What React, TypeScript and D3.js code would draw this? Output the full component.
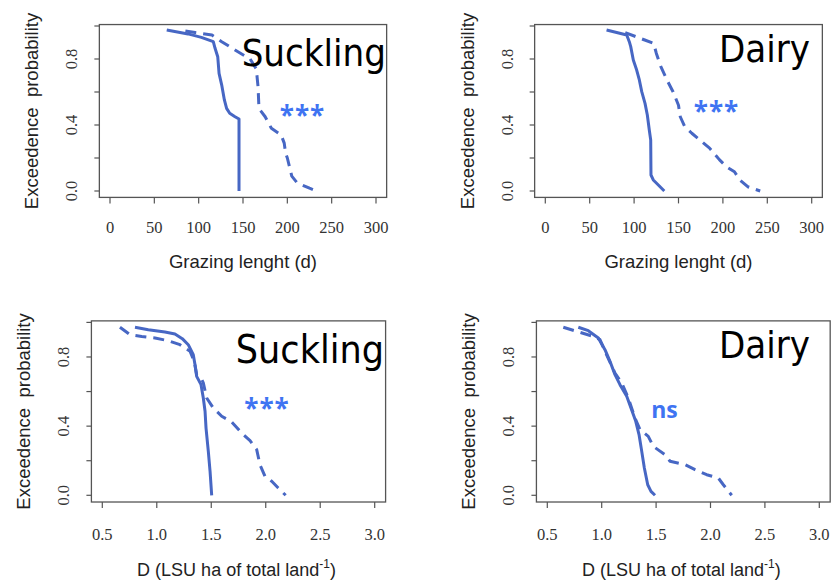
import React from "react";
import * as d3 from "d3";

type Pt = [number, number];

// Tick values shown on the axes
const grazingTicks = [0, 50, 100, 150, 200, 250, 300];
const densityTicks = [0.5, 1.0, 1.5, 2.0, 2.5, 3.0];
const probTicks = [0, 0.2, 0.4, 0.6, 0.8, 1.0];
const probLabelTicks = [0, 0.4, 0.8];

// Exceedence curves: [value, exceedence probability]
// Grazing length (days), suckling farms
const grazingSucklingSolid: Pt[] = [
  [64, 0.976], [88, 0.952], [103, 0.931], [116.5, 0.905], [118.5, 0.865],
  [121.5, 0.814], [123, 0.713], [126, 0.642], [129, 0.552], [131.5, 0.501],
  [135, 0.471], [141, 0.45], [145.5, 0.436], [145.5, 0.0],
];
const grazingSucklingDashed: Pt[] = [
  [85, 0.97], [96, 0.96], [115, 0.945], [126, 0.905], [141, 0.855],
  [158, 0.8], [165, 0.74], [167, 0.63], [168, 0.5], [175, 0.45],
  [182, 0.38], [193, 0.34], [196.5, 0.29], [198, 0.23], [200, 0.2],
  [205, 0.09], [211, 0.05], [225, 0.017], [233, 0.0],
];
// Grazing length (days), dairy farms
const grazingDairySolid: Pt[] = [
  [69, 0.976], [91.7, 0.945], [94.6, 0.905], [96.2, 0.875], [99.1, 0.794],
  [102.9, 0.733], [105.9, 0.673], [108.6, 0.602], [112.3, 0.531], [114.9, 0.461],
  [117.1, 0.37], [118.7, 0.309], [119, 0.097], [121.6, 0.067], [128.4, 0.03],
  [134, 0.0],
];
const grazingDairyDashed: Pt[] = [
  [90, 0.96], [112, 0.915], [122, 0.895], [125, 0.835], [130, 0.755],
  [137, 0.673], [144, 0.6], [150, 0.52], [152, 0.45], [157, 0.39],
  [165, 0.35], [185, 0.26], [196, 0.19], [204, 0.147], [213, 0.117],
  [219, 0.067], [228, 0.026], [242, 0.0],
];
// Stocking density (LSU/ha), suckling farms
const densitySucklingSolid: Pt[] = [
  [0.8, 0.972], [0.922, 0.958], [1.075, 0.944], [1.167, 0.933], [1.234, 0.906],
  [1.289, 0.871], [1.335, 0.813], [1.351, 0.755], [1.366, 0.688], [1.406, 0.64],
  [1.427, 0.563], [1.443, 0.486], [1.452, 0.389], [1.473, 0.254], [1.489, 0.139],
  [1.504, 0.0],
];
const densitySucklingDashed: Pt[] = [
  [0.662, 0.972], [0.754, 0.929], [0.862, 0.919], [0.984, 0.91], [1.106, 0.894],
  [1.213, 0.871], [1.305, 0.833], [1.344, 0.775], [1.366, 0.698], [1.406, 0.678],
  [1.427, 0.65], [1.458, 0.563], [1.519, 0.505], [1.596, 0.457], [1.688, 0.424],
  [1.779, 0.36], [1.856, 0.316], [1.917, 0.264], [1.947, 0.177], [1.993, 0.11],
  [2.055, 0.081], [2.115, 0.042], [2.183, 0.0],
];
// Stocking density (LSU/ha), dairy farms
const densityDairySolid: Pt[] = [
  [0.785, 0.972], [0.877, 0.952], [0.969, 0.91], [1.03, 0.842], [1.076, 0.775],
  [1.122, 0.698], [1.168, 0.64], [1.23, 0.573], [1.269, 0.505], [1.313, 0.428],
  [1.343, 0.351], [1.368, 0.254], [1.392, 0.158], [1.423, 0.061], [1.453, 0.023],
  [1.49, 0.0],
];
const densityDairyDashed: Pt[] = [
  [0.647, 0.972], [0.77, 0.948], [0.923, 0.919], [0.984, 0.9], [1.03, 0.833],
  [1.122, 0.707], [1.184, 0.65], [1.244, 0.563], [1.306, 0.447], [1.352, 0.38],
  [1.428, 0.341], [1.474, 0.283], [1.582, 0.235], [1.628, 0.197], [1.766, 0.177],
  [1.858, 0.148], [1.965, 0.119], [2.072, 0.1], [2.118, 0.061], [2.195, 0.0],
];

const LINE = "#4767c4";
const SIG = "#3f74f2";
const AXIS = "#555";
const TEXT = "#222";
const SANS = "'Liberation Sans', Arial, sans-serif";
const SERIF = "'Liberation Serif', 'Times New Roman', serif";
const LABEL_FONT = "'DejaVu Sans', Verdana, sans-serif";

interface Panel {
  ticks: number[];
  fmt: (v: number) => string;
  tickPx: [number, number];
  probPx: [number, number];
  title: "grazing" | "density";
  solid: Pt[];
  dashed: Pt[];
  group: string;
  groupX: number;
  groupY: number;
  groupSize: number;
  sig: string;
  sigX: number;
  sigY: number;
  sigSize: number;
  tickLabelY: number;
  titleY: number;
}

const fmtInt = d3.format("d");
const fmt1 = d3.format(".1f");

const panels: Panel[] = [
  {
    ticks: grazingTicks, fmt: fmtInt, tickPx: [110, 376], probPx: [191, 26],
    title: "grazing", solid: grazingSucklingSolid, dashed: grazingSucklingDashed,
    group: "Suckling", groupX: 386, groupY: 66, groupSize: 38,
    sig: "***", sigX: 302.5, sigY: 125, sigSize: 26,
    tickLabelY: 233, titleY: 268,
  },
  {
    ticks: grazingTicks, fmt: fmtInt, tickPx: [545.3, 811.7], probPx: [191, 26],
    title: "grazing", solid: grazingDairySolid, dashed: grazingDairyDashed,
    group: "Dairy", groupX: 810, groupY: 62, groupSize: 38,
    sig: "***", sigX: 716.5, sigY: 121, sigSize: 26,
    tickLabelY: 233, titleY: 268,
  },
  {
    ticks: densityTicks, fmt: fmt1, tickPx: [102.3, 374.7], probPx: [495.3, 322.4],
    title: "density", solid: densitySucklingSolid, dashed: densitySucklingDashed,
    group: "Suckling", groupX: 384, groupY: 363, groupSize: 39,
    sig: "***", sigX: 267, sigY: 418, sigSize: 26,
    tickLabelY: 540, titleY: 576,
  },
  {
    ticks: densityTicks, fmt: fmt1, tickPx: [547.3, 819.3], probPx: [495.3, 322.4],
    title: "density", solid: densityDairySolid, dashed: densityDairyDashed,
    group: "Dairy", groupX: 810, groupY: 358, groupSize: 38,
    sig: "ns", sigX: 664.5, sigY: 418, sigSize: 23,
    tickLabelY: 540, titleY: 576,
  },
];

function PanelView({ p }: { p: Panel }) {
  const t0 = p.ticks[0];
  const t1 = p.ticks[p.ticks.length - 1];
  const x = d3.scaleLinear().domain([t0, t1]).range(p.tickPx);
  const y = d3.scaleLinear().domain([0, 1]).range(p.probPx);
  const pad = 0.04 * (t1 - t0);
  const left = x(t0 - pad);
  const right = x(t1 + pad);
  const top = y(1.0088);
  const bottom = y(-0.0388);
  const line = d3
    .line<Pt>()
    .x((d) => x(d[0]))
    .y((d) => y(d[1]));
  const cx = (left + right) / 2;
  const cy = (top + bottom) / 2;

  return (
    <g>
      <rect
        x={left}
        y={top}
        width={right - left}
        height={bottom - top}
        fill="none"
        stroke={AXIS}
        strokeWidth={1.3}
      />
      {/* x axis ticks */}
      {p.ticks.map((t) => (
        <g key={"x" + t}>
          <line x1={x(t)} x2={x(t)} y1={bottom} y2={bottom + 6} stroke={AXIS} strokeWidth={1.2} />
          <text
            x={x(t)}
            y={p.tickLabelY}
            textAnchor="middle"
            fontFamily={SERIF}
            fontSize={16.5}
            fill="#333"
          >
            {p.fmt(t)}
          </text>
        </g>
      ))}
      {/* y axis ticks */}
      {probTicks.map((t) => (
        <line key={"y" + t} x1={left - 5} x2={left} y1={y(t)} y2={y(t)} stroke={AXIS} strokeWidth={1.2} />
      ))}
      {probLabelTicks.map((t) => (
        <text
          key={"yl" + t}
          transform={`translate(${left - 22},${y(t)}) rotate(-90)`}
          textAnchor="middle"
          fontFamily={SERIF}
          fontSize={16.5}
          fill="#333"
        >
          {fmt1(t)}
        </text>
      ))}
      {/* curves */}
      <path d={line(p.solid) ?? ""} fill="none" stroke={LINE} strokeWidth={3} strokeLinejoin="round" />
      <path
        d={line(p.dashed) ?? ""}
        fill="none"
        stroke={LINE}
        strokeWidth={3}
        strokeDasharray="11,7"
        strokeLinejoin="round"
      />
      {/* axis titles */}
      <text
        transform={`translate(${left - 61},${cy}) rotate(-90)`}
        textAnchor="middle"
        fontFamily={SANS}
        fontSize={18.5}
        fill={TEXT}
        style={{ whiteSpace: "pre" }}
      >
        {"Exceedence  probability"}
      </text>
      {p.title === "grazing" ? (
        <text x={cx} y={p.titleY} textAnchor="middle" fontFamily={SANS} fontSize={18.5} fill={TEXT}>
          Grazing lenght (d)
        </text>
      ) : (
        <text x={cx - 2} y={p.titleY} textAnchor="middle" fontFamily={SANS} fontSize={18} fill={TEXT}>
          <tspan>D (LSU ha of total land</tspan>
          <tspan dy={-8} fontSize={12}>-1</tspan>
          <tspan dy={8}>)</tspan>
        </text>
      )}
      {/* group label and significance */}
      <text
        x={p.groupX}
        y={p.groupY}
        textAnchor="end"
        fontFamily={LABEL_FONT}
        fontSize={p.groupSize}
        style={{ fontStretch: "condensed" }}
        fill="#000"
      >
        {p.group}
      </text>
      <text
        x={p.sigX}
        y={p.sigY}
        textAnchor="middle"
        fontFamily="'Open Sans', sans-serif"
        fontWeight="bold"
        fontSize={p.sigSize}
        fill={SIG}
        letterSpacing={p.sig === "***" ? 1 : 0}
      >
        {p.sig}
      </text>
    </g>
  );
}

export default function App() {
  return (
    <svg
      width={831}
      height={585}
      viewBox="0 0 831 585"
      style={{ position: "absolute", left: 0, top: 0, background: "#fff" }}
    >
      <rect x={0} y={0} width={831} height={585} fill="#fff" />
      {panels.map((p, i) => (
        <PanelView key={i} p={p} />
      ))}
    </svg>
  );
}
